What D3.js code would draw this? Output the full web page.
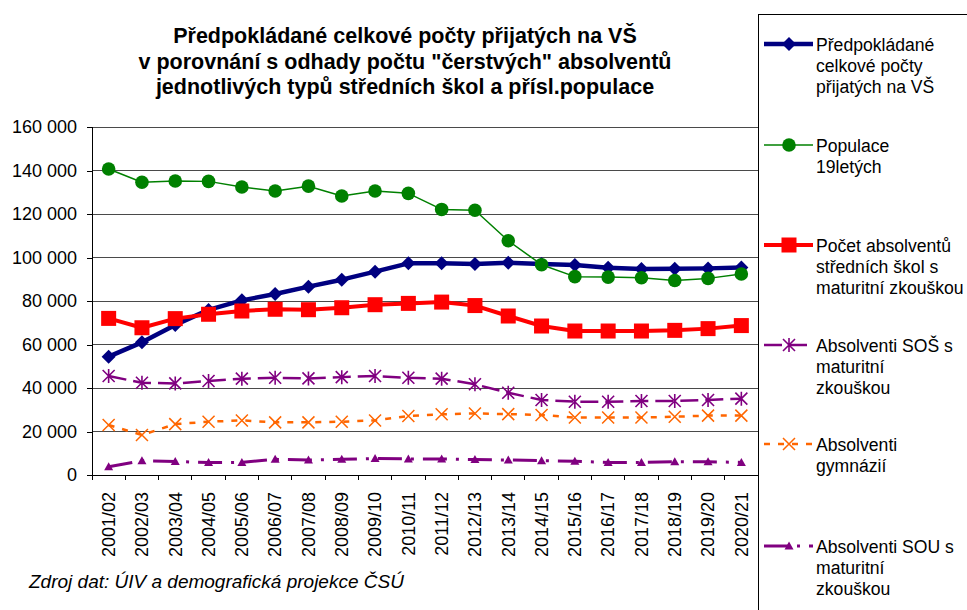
<!DOCTYPE html>
<html>
<head>
<meta charset="utf-8">
<script src="https://cdn.jsdelivr.net/npm/d3@7"></script>
<style>
  html, body { margin: 0; padding: 0; background: #fff; }
  svg { display: block; font-family: "Liberation Sans", Arial, sans-serif; }
</style>
</head>
<body>
<svg id="chart" width="967" height="610"></svg>
<script>
// ---------------- DATA ----------------
const categories = ["2001/02","2002/03","2003/04","2004/05","2005/06","2006/07","2007/08","2008/09","2009/10","2010/11",
  "2011/12","2012/13","2013/14","2014/15","2015/16","2016/17","2017/18","2018/19","2019/20","2020/21"];
const prijati   = [54400, 61000, 69000, 75900, 80300, 83200, 86600, 89800, 93500, 97300, 97300, 97000, 97600, 97000, 96500, 95300, 94700, 94800, 95000, 95400];
const populace  = [140700, 134600, 135200, 135000, 132400, 130600, 132800, 128300, 130600, 129500, 122100, 121700, 107700, 96700, 91200, 91000, 90700, 89400, 90400, 92400];
const maturanti = [72000, 67700, 71900, 73900, 75400, 76200, 76000, 76900, 78300, 78900, 79500, 77900, 73100, 68500, 66200, 66200, 66200, 66500, 67300, 68700];
const sos       = [45500, 42400, 42100, 43200, 44300, 44700, 44400, 45000, 45500, 44700, 44300, 41700, 37800, 34500, 33700, 33700, 34000, 34000, 34500, 35100];
const gymnazia  = [23000, 18400, 23400, 24500, 25100, 24200, 24200, 24500, 25100, 27100, 27900, 28300, 28000, 27600, 26400, 26400, 26400, 26800, 27300, 27300];
const sou       = [3800, 6600, 6200, 5700, 5800, 7200, 6900, 7200, 7600, 7400, 7400, 7100, 6900, 6600, 6300, 5800, 5800, 6100, 6100, 5800];
const yTicks    = [0, 20000, 40000, 60000, 80000, 100000, 120000, 140000, 160000];
const titleLines = ["Předpokládané celkové počty přijatých na VŠ",
  "v porovnání s odhady počtu \"čerstvých\" absolventů",
  "jednotlivých typů středních škol a přísl.populace"];
const sourceText = "Zdroj dat: ÚIV a demografická projekce ČSÚ";

const seriesNames = [
  ["Předpokládané", "celkové počty", "přijatých na VŠ"],
  ["Populace", "19letých"],
  ["Počet absolventů", "středních škol s", "maturitní zkouškou"],
  ["Absolventi SOŠ s", "maturitní", "zkouškou"],
  ["Absolventi", "gymnázií"],
  ["Absolventi SOU s", "maturitní", "zkouškou"]
];
const seriesValues = [prijati, populace, maturanti, sos, gymnazia, sou];

// ---------------- STYLES ----------------
const styles = [
  { color: "#000080", width: 4.5, dash: null,        marker: "diamond" },
  { color: "#008000", width: 1.5, dash: null,        marker: "circle" },
  { color: "#FF0000", width: 4,   dash: null,        marker: "square" },
  { color: "#800080", width: 2.5, dash: "18,7",      marker: "star" },
  { color: "#FF6600", width: 2.5, dash: "6,8",       marker: "x" },
  { color: "#800080", width: 3,   dash: "24,9,3,9",  marker: "triangle" }
];
const legendY = [44, 145, 245, 345, 444, 546];

const svg = d3.select("#chart");
const L = 92, R = 758, T = 127, B = 475;

const x = d3.scaleBand().domain(categories).range([L, R]).padding(0);
const y = d3.scaleLinear().domain([0, 160000]).range([B, T]);
const cx = c => x(c) + x.bandwidth() / 2;

// title
svg.append("g").selectAll("text").data(titleLines).join("text")
  .attr("x", 405).attr("y", (d, i) => 43 + i * 25.5)
  .attr("text-anchor", "middle")
  .attr("font-size", "21.5px").attr("font-weight", "bold").attr("fill", "#000")
  .text(d => d);

// gridlines
svg.append("g").selectAll("line").data(yTicks.filter(v => v > 0)).join("line")
  .attr("x1", L).attr("x2", R)
  .attr("y1", d => y(d)).attr("y2", d => y(d))
  .attr("stroke", "#4a4a4a").attr("stroke-width", 1).attr("shape-rendering", "crispEdges");

// y axis
const fmt = v => d3.format(",")(v).replace(/,/g, " ");
const yAxis = svg.append("g").attr("transform", `translate(${L},0)`)
  .call(d3.axisLeft(y).tickValues(yTicks).tickFormat(fmt).tickSize(5).tickPadding(10));
yAxis.select(".domain").attr("stroke", "#000").attr("shape-rendering", "crispEdges");
yAxis.selectAll(".tick line").attr("stroke", "#000").attr("shape-rendering", "crispEdges");
yAxis.selectAll("text").attr("font-size", "18px").attr("fill", "#000")
  .attr("font-family", "'Liberation Sans', Arial, sans-serif");

// x axis
const xAxis = svg.append("g").attr("transform", `translate(0,${B})`)
  .call(d3.axisBottom(x).tickSize(0).tickPadding(0));
xAxis.select(".domain").attr("stroke", "#000").attr("shape-rendering", "crispEdges");
xAxis.selectAll(".tick text")
  .attr("font-size", "18px").attr("fill", "#000")
  .attr("font-family", "'Liberation Sans', Arial, sans-serif")
  .attr("text-anchor", "end")
  .attr("transform", "translate(0,17) rotate(-90)")
  .attr("x", 0).attr("y", 0).attr("dy", "0.35em");
// tick marks at category boundaries
const bounds = categories.map(c => x(c)).concat([R]);
svg.append("g").selectAll("line").data(bounds).join("line")
  .attr("x1", d => d).attr("x2", d => d).attr("y1", B).attr("y2", B + 5)
  .attr("stroke", "#000").attr("shape-rendering", "crispEdges");

// markers
function drawMarker(g, type, color) {
  switch (type) {
    case "diamond":
      g.append("path").attr("d", "M0,-7L7,0L0,7L-7,0Z").attr("fill", color);
      break;
    case "circle":
      g.append("circle").attr("r", 6.8).attr("fill", color);
      break;
    case "square":
      g.append("rect").attr("x", -7.5).attr("y", -7.5).attr("width", 15).attr("height", 15).attr("fill", color);
      break;
    case "star":
      g.append("path").attr("d", "M0,-7V7M-6,-6L6,6M-6,6L6,-6").attr("stroke", color).attr("stroke-width", 1.6).attr("fill", "none");
      break;
    case "x":
      g.append("path").attr("d", "M-6,-6L6,6M-6,6L6,-6").attr("stroke", color).attr("stroke-width", 1.5).attr("fill", "none");
      break;
    case "triangle":
      g.append("path").attr("d", "M0,-4.5L4.5,3.5L-4.5,3.5Z").attr("fill", color);
      break;
  }
}

const line = d3.line().x((d, i) => cx(categories[i])).y(d => y(d));
seriesValues.forEach((vals, si) => {
  const st = styles[si];
  const g = svg.append("g");
  g.append("path").datum(vals).attr("d", line)
    .attr("fill", "none").attr("stroke", st.color).attr("stroke-width", st.width)
    .attr("stroke-linejoin", "round")
    .attr("stroke-dasharray", st.dash);
  vals.forEach((v, i) => {
    const mg = g.append("g").attr("transform", `translate(${cx(categories[i])},${y(v)})`);
    drawMarker(mg, st.marker, st.color);
  });
});

// legend
svg.append("rect").attr("x", 758.5).attr("y", 14.5).attr("width", 320).attr("height", 700)
  .attr("fill", "none").attr("stroke", "#000").attr("stroke-width", 1);
seriesNames.forEach((names, si) => {
  const st = styles[si];
  const ly = legendY[si];
  const g = svg.append("g");
  g.append("line").attr("x1", 764).attr("x2", 813).attr("y1", ly).attr("y2", ly)
    .attr("stroke", st.color).attr("stroke-width", st.width)
    .attr("stroke-dasharray", st.dash);
  drawMarker(g.append("g").attr("transform", `translate(789,${ly})`), st.marker, st.color);
  g.selectAll("text").data(names).join("text")
    .attr("x", 816).attr("y", (d, i) => ly + 7 + i * 21)
    .attr("font-size", "17.6px").attr("fill", "#000")
    .text(d => d);
});

// source
svg.append("text").attr("x", 29).attr("y", 588)
  .attr("font-size", "19px").attr("font-style", "italic").attr("fill", "#000")
  .text(sourceText);
</script>
</body>
</html>
